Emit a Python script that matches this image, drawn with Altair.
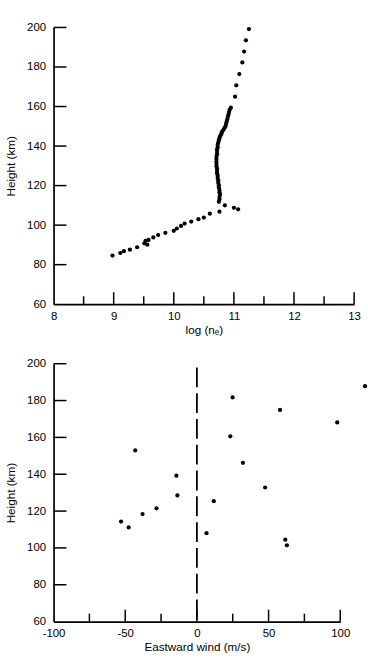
import altair as alt
import pandas as pd

# ---------- top panel: electron density profile ----------
log_ne = [
    8.98, 9.11, 9.17, 9.27, 9.39, 9.51, 9.53, 9.56, 9.58, 9.66, 9.74, 9.86,
    10.00, 10.05, 10.12, 10.18, 10.29, 10.41, 10.50, 10.60, 10.76, 10.85, 11.00, 11.07,
    10.75, 10.76, 10.76, 10.77, 10.76, 10.76, 10.75, 10.75, 10.74, 10.74, 10.73, 10.73,
    10.72, 10.72, 10.72, 10.71, 10.71, 10.71, 10.71, 10.71, 10.72, 10.72, 10.72, 10.73,
    10.73, 10.74, 10.75, 10.76, 10.77, 10.79, 10.80, 10.82, 10.84, 10.86, 10.87, 10.88,
    10.89, 10.90, 10.91, 10.92, 10.93, 10.95,
    11.02, 11.04, 11.09, 11.14, 11.17, 11.20, 11.25,
]
height_ne = [
    84.6, 85.9, 86.8, 87.6, 88.8, 90.8, 92.1, 90.1, 92.5, 93.8, 95.0, 96.1,
    97.1, 98.3, 99.6, 100.8, 101.8, 103.0, 103.8, 105.8, 106.8, 110.0, 108.8, 108.0,
    111.8, 113.0, 114.2, 115.4, 116.6, 117.8, 119.0, 120.2, 121.4, 122.6, 123.8, 125.0,
    126.2, 127.4, 128.6, 129.8, 131.0, 132.2, 133.4, 134.6, 135.8, 137.0, 138.2, 139.4,
    140.6, 141.8, 143.0, 144.0, 145.0, 146.0, 147.0, 148.0, 149.0, 150.0, 151.2, 152.4,
    153.6, 154.8, 156.0, 157.2, 158.4, 159.4,
    165.0, 170.7, 176.4, 182.3, 187.8, 193.5, 199.2,
]

# ---------- bottom panel: eastward wind ----------
wind = [-52.9, -47.6, -43.0, -37.9, -28.2, -14.3, -13.6, 6.7, 11.8, 23.3,
        24.9, 32.1, 47.6, 58.0, 61.7, 62.8, 97.9, 117.3]
height_wind = [114.3, 111.1, 152.9, 118.4, 121.5, 139.2, 128.5, 108.0, 125.4, 160.6,
               181.7, 146.2, 132.8, 174.9, 104.5, 101.4, 168.1, 187.8]

# ---------- tick values ----------
height_ticks = [60, 80, 100, 120, 140, 160, 180, 200]
height_tick_marks = [80, 100, 120, 140, 160, 180, 200]
ne_ticks = [8, 9, 10, 11, 12, 13]
ne_major_marks = [9, 10, 11, 12, 13]
ne_minor_marks = [8.5, 9.5, 10.5, 11.5, 12.5]
wind_ticks = [-100, -50, 0, 50, 100]
wind_major_marks = [-50, 0, 50, 100]
wind_minor_marks = [-75, -25, 25, 75]
zero_line = [0]

FONT = "Liberation Sans"
W1, H1 = 303, 279
W2, H2 = 289, 260

yscale = alt.Scale(domain=[60, 200], nice=False, zero=False)
xscale1 = alt.Scale(domain=[8, 13], nice=False, zero=False)
xscale2 = alt.Scale(domain=[-100, 100], nice=False, zero=False)

ax_common = dict(grid=False, ticks=False, domainColor="black", domainWidth=1.7,
                 labelColor="black", labelFont=FONT, labelFontSize=11.5,
                 titleFont=FONT, titleFontSize=11.8, titleFontWeight="normal",
                 titleColor="black", labelFlush=False, labelOverlap=False,
                 labelExpr="'' + datum.value")

yaxis = alt.Axis(values=height_ticks, title="Height (km)", labelPadding=8,
                 titlePadding=10, **ax_common)
xaxis1 = alt.Axis(values=ne_ticks, title="log (nₑ)", labelPadding=6,
                  titlePadding=3, **ax_common)
xaxis2 = alt.Axis(values=wind_ticks, title="Eastward wind (m/s)",
                  labelPadding=6, titlePadding=3, **ax_common)


def tick_layers(xvals_major, xvals_minor, yvals, xscale, xaxis, h):
    yt = alt.Chart(pd.DataFrame({"v": yvals})).mark_rule(
        color="black", strokeWidth=1.5).encode(
        y=alt.Y("v:Q", scale=yscale, axis=yaxis),
        x=alt.value(0), x2=alt.value(13))
    xmaj = alt.Chart(pd.DataFrame({"v": xvals_major})).mark_rule(
        color="black", strokeWidth=1.5).encode(
        x=alt.X("v:Q", scale=xscale, axis=xaxis),
        y=alt.value(h), y2=alt.value(h - 12))
    xmin = alt.Chart(pd.DataFrame({"v": xvals_minor})).mark_rule(
        color="black", strokeWidth=1.5).encode(
        x=alt.X("v:Q", scale=xscale, axis=xaxis),
        y=alt.value(h), y2=alt.value(h - 8))
    return [yt, xmaj, xmin]


top_pts = alt.Chart(pd.DataFrame({"x": log_ne, "y": height_ne})).mark_circle(
    color="black", opacity=1, size=18).encode(
    x=alt.X("x:Q", scale=xscale1, axis=xaxis1),
    y=alt.Y("y:Q", scale=yscale, axis=yaxis))

top = alt.layer(top_pts, *tick_layers(ne_major_marks, ne_minor_marks,
                                       height_tick_marks, xscale1, xaxis1, H1)
                ).properties(width=W1, height=H1)

dash = alt.Chart(pd.DataFrame({"v": zero_line})).mark_rule(
    color="black", strokeWidth=1.8, strokeDash=[20, 6]).encode(
    x=alt.X("v:Q", scale=xscale2, axis=xaxis2),
    y=alt.datum(198, scale=yscale, axis=yaxis), y2=alt.datum(60))

bot_pts = alt.Chart(pd.DataFrame({"x": wind, "y": height_wind})).mark_circle(
    color="black", opacity=1, size=18, clip=False).encode(
    x=alt.X("x:Q", scale=xscale2, axis=xaxis2),
    y=alt.Y("y:Q", scale=yscale, axis=yaxis))

bottom = alt.layer(bot_pts, dash, *tick_layers(wind_major_marks, wind_minor_marks,
                                                height_tick_marks, xscale2, xaxis2, H2)
                   ).properties(width=W2, height=H2)

chart = alt.vconcat(top, bottom, spacing=21).properties(
    padding={"left": 5, "top": 19, "right": 0, "bottom": 0},
    background="white",
).configure_view(stroke=None)

chart.save("out.html", embed_options={"renderer": "svg", "actions": False})
